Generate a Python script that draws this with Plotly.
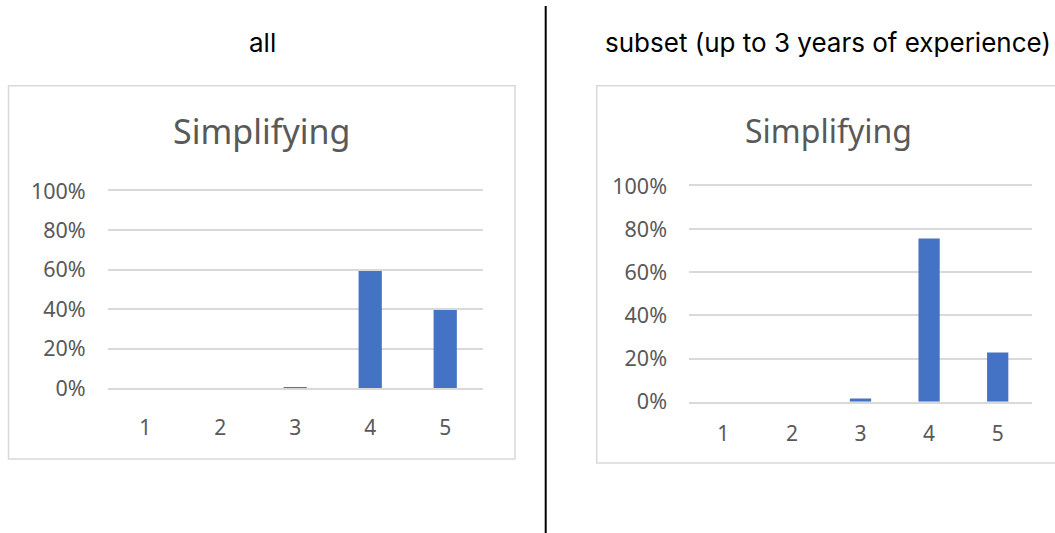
import plotly.graph_objects as go

W, H = 1055, 533

categories = ["1", "2", "3", "4", "5"]
all_values = [0.0, 0.0, 0.005, 0.594, 0.396]
subset_values = [0.0, 0.0, 0.015, 0.757, 0.228]
y_ticks = [0, 0.2, 0.4, 0.6, 0.8, 1.0]
y_tick_labels = ["0%", "20%", "40%", "60%", "80%", "100%"]
panel_titles = ["all", "subset (up to 3 years of experience)"]
chart_title = "Simplifying"

BAR = "#4472C4"
GRID = "#d9d9d9"
TXT = "#595959"
FONT = "Noto Sans"
HFONT = "Inter"


def px(x):
    return x / W


def py(y):
    return 1 - y / H


fig = go.Figure()
fig.add_trace(go.Bar(x=categories, y=all_values, marker=dict(color=BAR, line=dict(width=0)),
                     width=0.31, xaxis="x", yaxis="y", hoverinfo="skip"))
fig.add_trace(go.Bar(x=categories, y=subset_values, marker=dict(color=BAR, line=dict(width=0)),
                     width=0.31, xaxis="x2", yaxis="y2", hoverinfo="skip"))

common_x = dict(showgrid=False, zeroline=False, showline=True, mirror=True, linecolor=GRID, linewidth=1.5,
                ticks="", tickfont=dict(family=FONT, size=21, color=TXT), fixedrange=True)
common_y = dict(range=[0, 1], tickvals=y_ticks, ticktext=y_tick_labels, showgrid=True,
                gridcolor=GRID, gridwidth=1.5, zeroline=False, showline=False, ticks="",
                tickfont=dict(family=FONT, size=21.5, color=TXT), fixedrange=True)

fig.update_layout(
    width=W, height=H,
    margin=dict(l=0, r=0, t=0, b=0, pad=0, autoexpand=False),
    paper_bgcolor="white", plot_bgcolor="white",
    showlegend=False,
    xaxis=dict(domain=[px(107.7), px(482.7)], anchor="y", ticklabelstandoff=20, **common_x),
    yaxis=dict(domain=[py(388), py(191)], anchor="x", ticklabelstandoff=21, **common_y),
    xaxis2=dict(domain=[px(689), px(1032)], anchor="y2", ticklabelstandoff=12, **common_x),
    yaxis2=dict(domain=[py(401.7), py(186)], anchor="x2", ticklabelstandoff=21, **common_y),
    shapes=[
        dict(type="rect", xref="paper", yref="paper", x0=px(8.5), x1=px(515), y0=py(459), y1=py(85.7),
             line=dict(color=GRID, width=1.5), layer="below"),
        dict(type="rect", xref="paper", yref="paper", x0=px(596.7), x1=px(1058), y0=py(463), y1=py(85.7),
             line=dict(color=GRID, width=1.5), layer="below"),
        dict(type="line", xref="paper", yref="paper", x0=px(545.7), x1=px(545.7), y0=py(6), y1=py(533),
             line=dict(color="black", width=2)),
    ],
    annotations=[
        dict(text=panel_titles[0], x=px(262.5), y=py(42), xref="paper", yref="paper",
             showarrow=False, xanchor="center", yanchor="middle",
             font=dict(family=HFONT, size=26, color="black")),
        dict(text=panel_titles[1], x=px(828), y=py(42), xref="paper", yref="paper",
             showarrow=False, xanchor="center", yanchor="middle",
             font=dict(family=HFONT, size=26, color="black")),
        dict(text=chart_title, x=px(261), y=py(131), xref="paper", yref="paper",
             showarrow=False, xanchor="center", yanchor="middle",
             font=dict(family=FONT, size=34, color=TXT)),
        dict(text=chart_title, x=px(828), y=py(130), xref="paper", yref="paper",
             showarrow=False, xanchor="center", yanchor="middle",
             font=dict(family=FONT, size=32, color=TXT)),
    ],
)

fig.write_html("out.html")
